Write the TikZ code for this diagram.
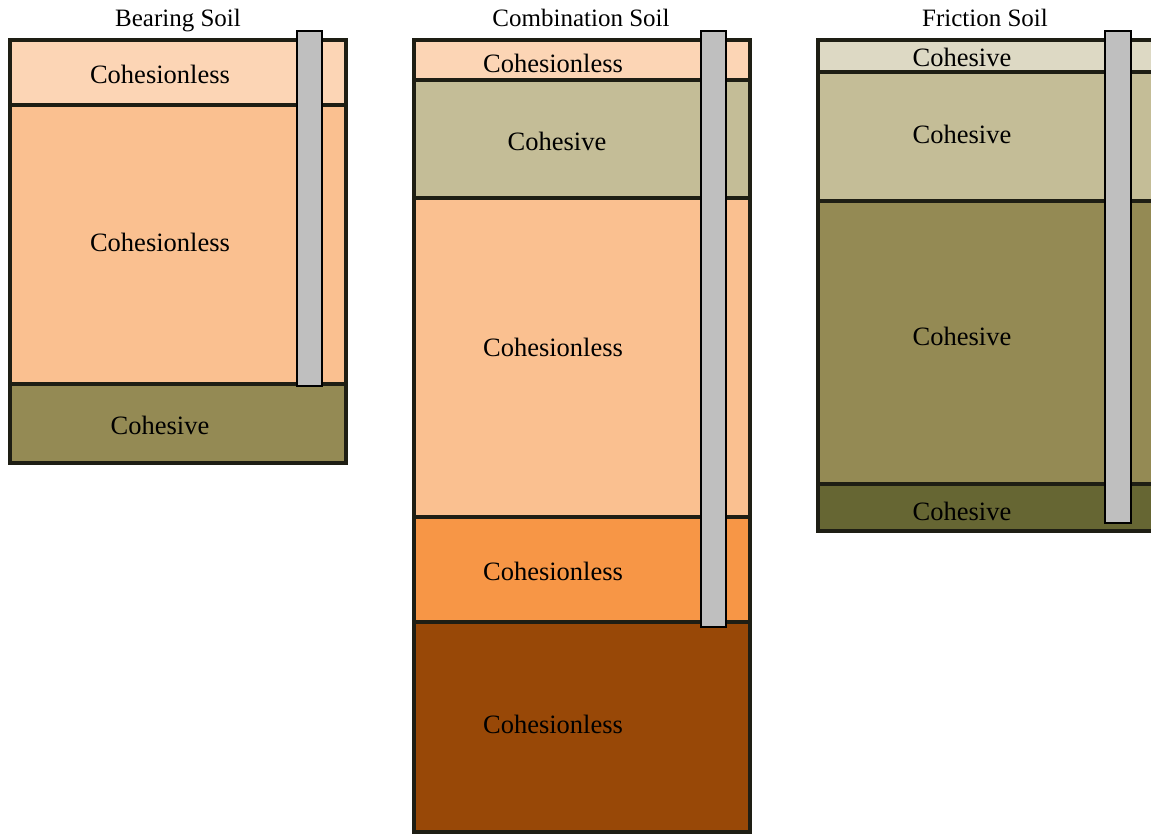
\documentclass[tikz,border=0pt]{standalone}
\usepackage{fontspec}
\setmainfont{Liberation Serif}
\definecolor{clA}{HTML}{FCD5B5}
\definecolor{clB}{HTML}{FAC090}
\definecolor{clC}{HTML}{F79646}
\definecolor{clD}{HTML}{984807}
\definecolor{chA}{HTML}{DDD9C4}
\definecolor{chB}{HTML}{C4BD97}
\definecolor{chC}{HTML}{948A54}
\definecolor{chD}{HTML}{666633}
\definecolor{edge}{HTML}{1E1E14}
\definecolor{pilegray}{HTML}{BFBFBF}
\tikzset{
  layer/.style={draw=edge,line width=3.2pt},
  outerbox/.style={draw=edge,line width=3.6pt},
  pile/.style={draw=black,fill=pilegray,line width=2.8pt},
  lbl/.style={font=\fontsize{26.5}{30}\selectfont,anchor=base,inner sep=0pt},
  ttl/.style={font=\fontsize{25}{28}\selectfont,anchor=base,inner sep=0pt}
}
\begin{document}
\begin{tikzpicture}[x=1pt,y=-1pt]
\useasboundingbox (0,0) rectangle (1151,835);
% ---------- Bearing Soil ----------
\fill[clA] (10,40) rectangle (346,105);
\fill[clB] (10,105) rectangle (346,384);
\fill[chC] (10,384) rectangle (346,463);
\draw[layer] (10,105) -- (346,105);
\draw[layer] (10,384) -- (346,384);
\draw[outerbox] (10,40) rectangle (346,463);
\draw[pile] (297,31) rectangle (322,386);
\node[ttl] (t1) at (178,27) {Bearing Soil};
\node[lbl] (b1) at (160,83) {Cohesionless};
\node[lbl] (b2) at (160,251) {Cohesionless};
\node[lbl] (b3) at (160,434) {Cohesive};
% ---------- Combination Soil ----------
\fill[clA] (414,40) rectangle (750,80);
\fill[chB] (414,80) rectangle (750,198);
\fill[clB] (414,198) rectangle (750,517);
\fill[clC] (414,517) rectangle (750,622);
\fill[clD] (414,622) rectangle (750,832);
\foreach \yy in {80,198,517,622}{\draw[layer] (414,\yy) -- (750,\yy);}
\draw[outerbox] (414,40) rectangle (750,832);
\draw[pile] (701,31) rectangle (726,627);
\node[ttl] (t2) at (581,27) {Combination Soil};
\node[lbl] (c1) at (553,72) {Cohesionless};
\node[lbl] (c2) at (557,150) {Cohesive};
\node[lbl] (c3) at (553,356) {Cohesionless};
\node[lbl] (c4) at (553,580) {Cohesionless};
\node[lbl] (c5) at (553,733) {Cohesionless};
% ---------- Friction Soil ----------
\fill[chA] (818,40) rectangle (1170,72);
\fill[chB] (818,72) rectangle (1170,201);
\fill[chC] (818,201) rectangle (1170,484);
\fill[chD] (818,484) rectangle (1170,531);
\foreach \yy in {72,201,484}{\draw[layer] (818,\yy) -- (1170,\yy);}
\draw[outerbox] (818,40) rectangle (1170,531);
\draw[pile] (1105,31) rectangle (1131,523);
\node[ttl] (t3) at (985,27) {Friction Soil};
\node[lbl] (f1) at (962,66) {Cohesive};
\node[lbl] (f2) at (962,143) {Cohesive};
\node[lbl] (f3) at (962,345) {Cohesive};
\node[lbl] (f4) at (962,520) {Cohesive};
\end{tikzpicture}
\end{document}
